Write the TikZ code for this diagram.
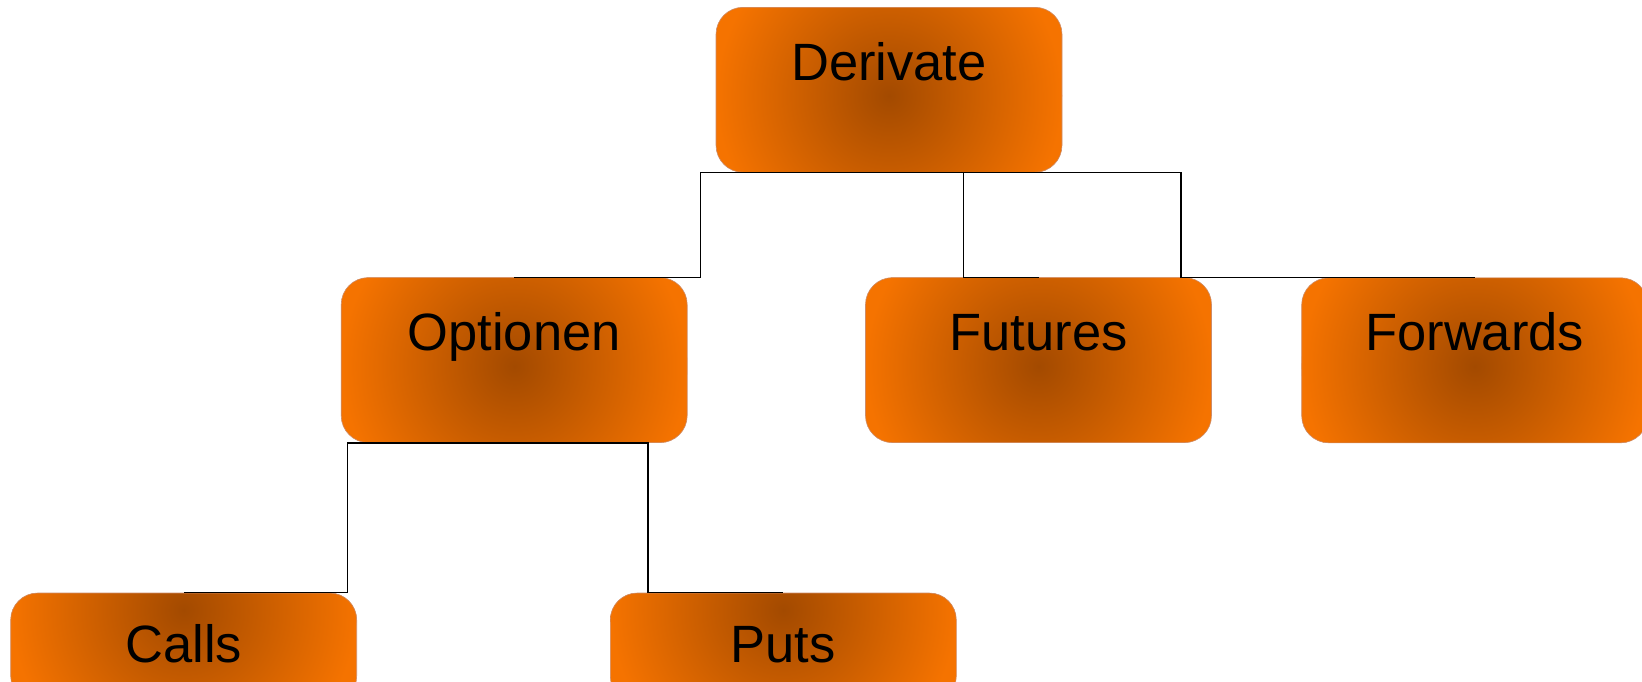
\documentclass[tikz,border=0pt]{standalone}
\usepackage{fontspec}
\setmainfont{Liberation Sans}
\definecolor{boxorange}{RGB}{245,115,0}
\definecolor{boxdark}{RGB}{163,74,0}
\definecolor{boxedge}{RGB}{205,140,105}
\tikzset{
  orgbox/.style={rectangle, rounded corners=27pt, fill=boxorange, draw=boxedge, line width=0.6pt,
    minimum width=346pt, inner sep=0pt, text height=73pt, text depth=92pt,
    font=\fontsize{52.5pt}{60pt}\selectfont, anchor=north,
    path picture={\shade[inner color=boxdark, outer color=boxorange]
      ([yshift=-6pt]path picture bounding box.center) circle (173pt);}},
  lowbox/.style={orgbox, text height=69.5pt, text depth=40.5pt,
    path picture={\shade[inner color=boxdark, outer color=boxorange]
      ([yshift=-17pt]path picture bounding box.north) circle (173pt);}},
  link/.style={draw=black, line width=1.3pt}
}
\begin{document}
\begin{tikzpicture}[x=1pt,y=1pt]
\useasboundingbox (0,0) rectangle (1642,-681);
\node[orgbox] (der) at (889,-7) {Derivate};
\node[orgbox] (opt) at (514.2,-277.3) {Optionen};
\node[orgbox] (fut) at (1038.5,-277.3) {Futures};
\node[orgbox] (fwd) at (1474.7,-277.5) {Forwards};
\node[lowbox] (calls) at (183.7,-592.7) {Calls};
\node[lowbox] (puts) at (783.3,-592.7) {Puts};
\draw[link] (der.south) -| ([xshift=186.4pt]opt.north) -- (opt.north);
\draw[link] (der.south) -| ([xshift=-75.2pt]fut.north) -- (fut.north);
\draw[link] (der.south) -| ([xshift=-293.7pt]fwd.north) -- (fwd.north);
\draw[link] (opt.south) -| ([xshift=164pt]calls.north) -- (calls.north);
\draw[link] (opt.south) -| ([xshift=-135.3pt]puts.north) -- (puts.north);
\end{tikzpicture}
\end{document}
